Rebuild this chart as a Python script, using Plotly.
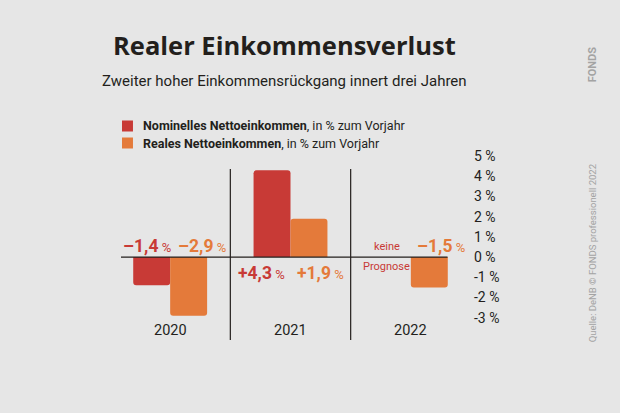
import plotly.graph_objects as go

years = ["2020", "2021", "2022"]
nominal = [-1.4, 4.3, None]
real = [-2.9, 1.9, -1.5]
nominal_labels = ["–1,4", "+4,3", None]
real_labels = ["–2,9", "+1,9", "–1,5"]
series_names = ["Nominelles Nettoeinkommen", "Reales Nettoeinkommen"]
y_ticks = [5, 4, 3, 2, 1, 0, -1, -2, -3]

RED = "#c83a36"
ORANGE = "#e47a3a"
BG = "#e6e6e6"
DARK = "#231f1c"
COND = "Roboto, sans-serif"

# plot area in pixels
L, R, T, B = 110, 148.5, 147, 64
PW, PH = 620 - L - R, 413 - T - B


def px(xp):
    return (xp - L) / PW


def py(yp):
    return (413 - B - yp) / PH


def dx(xp):
    return -0.5 + (xp - L) / PW * 3


def note(**kw):
    kw.setdefault("showarrow", False)
    kw.setdefault("xanchor", "center")
    kw.setdefault("yanchor", "middle")
    fig.add_annotation(**kw)


x = list(range(len(years)))
fig = go.Figure()
fig.add_bar(x=x, y=nominal, name=series_names[0], marker_color=RED, marker_line_width=0)
fig.add_bar(x=x, y=real, name=series_names[1], marker_color=ORANGE, marker_line_width=0)

# value labels (left-anchored)
lab_x_nom = [121, 236, None]
lab_x_real = [176, 295, 415]
for i in range(len(years)):
    for val, lab, lx, col in [(nominal[i], nominal_labels[i], lab_x_nom[i], RED),
                              (real[i], real_labels[i], lab_x_real[i], ORANGE)]:
        if val is None:
            continue
        ly = 0.55 if val < 0 else -0.8
        note(x=dx(lx), y=ly, xref="x", yref="y", xanchor="left",
             text=f"<b>{lab}</b><span style='font-size:13px'> %</span>",
             font=dict(family=COND, size=17.5, color=col))

note(x=dx(387), y=0.5, xref="x", yref="y", text="keine",
     font=dict(family=COND, size=11, color=RED))
note(x=dx(387), y=-0.45, xref="x", yref="y", text="Prognose",
     font=dict(family=COND, size=11, color=RED))

# year labels
for i, yr in enumerate(years):
    note(x=i, y=-3.62, xref="x", yref="y", text=yr,
         font=dict(family=COND, size=14.5, color=DARK))

# separators and zero line
for sx in [0.5, 1.5]:
    fig.add_shape(type="line", x0=sx, x1=sx, y0=-4.11, y1=4.36, xref="x", yref="y",
                  line=dict(color=DARK, width=1.2))
fig.add_shape(type="line", x0=dx(121), x1=dx(448), y0=0, y1=0, xref="x", yref="y",
              line=dict(color=DARK, width=1.2))

# legend (custom)
for j, (nm, col) in enumerate(zip(series_names, [RED, ORANGE])):
    yc = 126 + 17 * j
    fig.add_shape(type="rect", xref="paper", yref="paper",
                  x0=px(122), x1=px(133), y0=py(yc + 5.5), y1=py(yc - 5.5),
                  fillcolor=col, line_width=0)
    note(xref="paper", yref="paper", x=px(141), y=py(yc), xanchor="left",
         text=f"<b>{nm}</b>, in % zum Vorjahr",
         font=dict(family=COND, size=12.5, color=DARK))

# title / subtitle
note(xref="paper", yref="paper", x=px(285), y=py(45),
     text="<b>Realer Einkommensverlust</b>",
     font=dict(family="Open Sans, Roboto, sans-serif", size=25.5, color=DARK))
note(xref="paper", yref="paper", x=px(285), y=py(81),
     text="Zweiter hoher Einkommensrückgang innert drei Jahren",
     font=dict(family=COND, size=15, color=DARK))

# source & logo
note(xref="paper", yref="paper", x=px(593), y=py(253), textangle=-90,
     text="Quelle: DeNB © FONDS professionell 2022",
     font=dict(family=COND, size=9.5, color="#a3a3a3"))
note(xref="paper", yref="paper", x=px(593), y=py(64), textangle=-90,
     text="<b>FONDS</b>",
     font=dict(family=COND, size=11, color="#a3a3a3"))

fig.update_layout(
    width=620, height=413,
    margin=dict(l=L, r=R, t=T, b=B),
    paper_bgcolor=BG, plot_bgcolor=BG,
    barmode="group", bargap=0.386, bargroupgap=0, barcornerradius=3,
    showlegend=False,
    xaxis=dict(range=[-0.5, 2.5], showticklabels=False, showgrid=False, zeroline=False,
               showline=False, ticks=""),
    yaxis=dict(range=[-4.55, 5.45], side="right", tickvals=y_ticks,
               ticktext=[f"{v} %" for v in y_ticks],
               showgrid=False, zeroline=False, showline=False, ticks="",
               ticklabelstandoff=2,
               tickfont=dict(family=COND, size=14, color=DARK)),
)
fig.write_html("out.html", config={"displayModeBar": False},
               post_script="document.body.style.margin='0';document.body.style.background='#e6e6e6';")
